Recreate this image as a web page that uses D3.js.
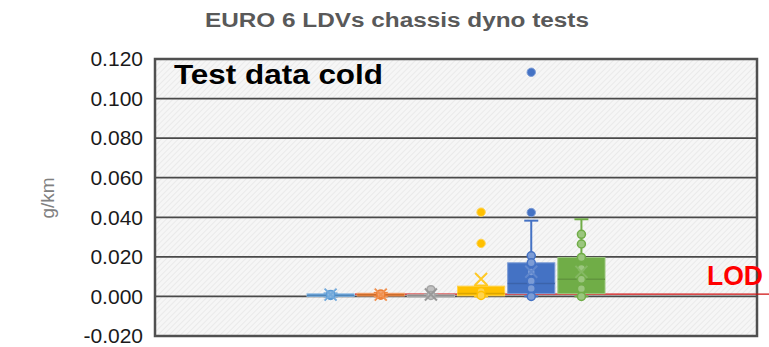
<!DOCTYPE html>
<html><head><meta charset="utf-8">
<script src="https://cdn.jsdelivr.net/npm/d3@7"></script>
<style>body{margin:0;background:#fff}svg{display:block}</style>
</head><body>
<svg id="chart" width="769" height="347"></svg>
<script>
// ---- data ----
const categories = ["s1","s2","s3","s4","s5","s6","s7","s8","s9","s10","s11","s12"];
const seriesSlot = ["s4","s5","s6","s7","s8","s9"];
const seriesColor = ["#5B9BD5","#ED7D31","#A5A5A5","#FFC000","#4472C4","#70AD47"];
const q1Vals     = [0.0000, 0.0002, 0.0003, 0.0003, 0.0014, 0.0014];
const medianVals = [0.0005, 0.0008, 0.0005, 0.0015, 0.0065, 0.0087];
const q3Vals     = [0.0013, 0.0016, 0.0008, 0.0052, 0.0170, 0.0197];
const whiskLow   = [0.0000, 0.0000, 0.0000, 0.0000, 0.0000, 0.0000];
const whiskHigh  = [0.0015, 0.0018, 0.0010, 0.0055, 0.0383, 0.0390];
const meanVals   = [0.0009, 0.0009, 0.0010, 0.0088, 0.0125, 0.0124];
const innerPoints = [
  [0.0005, 0.0010],
  [0.0006, 0.0012],
  [0.0034, 0.0005],
  [0.0025, 0.0005],
  [0.0205, 0.0170, 0.0124, 0.0078, 0.0040, 0.0000],
  [0.0314, 0.0265, 0.0197, 0.0141, 0.0087, 0.0039, 0.0000]
];
const outliers = [[], [], [], [0.0426, 0.0268], [0.0424, 0.1133], []];
const yTicks = [-0.02, 0.00, 0.02, 0.04, 0.06, 0.08, 0.10, 0.12];
const lodValue = 0.0012;

// ---- layout ----
const svg = d3.select("#chart");
const L = 155, R = 757, T = 59, B = 336;
const x = d3.scaleBand().domain(categories).range([L, R]).paddingInner(0.06).paddingOuter(0.03);
const y = d3.scaleLinear().domain([-0.02, 0.12]).range([B, T]);

const defs = svg.append("defs");
const pat = defs.append("pattern").attr("id","hatch").attr("patternUnits","userSpaceOnUse")
  .attr("width",4).attr("height",4).attr("patternTransform","rotate(45)");
pat.append("rect").attr("width",4).attr("height",4).attr("fill","#f6f6f6");
pat.append("line").attr("x1",0).attr("y1",0).attr("x2",0).attr("y2",4).attr("stroke","#e3e3e3").attr("stroke-width",1.2);

svg.append("rect").attr("x",L).attr("y",T).attr("width",R-L).attr("height",B-T).attr("fill","url(#hatch)");

// gridlines
svg.append("g").selectAll("line").data(yTicks).join("line")
  .attr("x1",L).attr("x2",R).attr("y1",d=>y(d)).attr("y2",d=>y(d))
  .attr("stroke","#4a4a4a").attr("stroke-width",1.8);

// y axis labels
const fmt = d3.format(".3f");
const yAxis = d3.axisLeft(y).tickValues(yTicks).tickFormat(d=>fmt(d).replace("\u2212","-")).tickSize(0).tickPadding(0);
const ya = svg.append("g").attr("transform",`translate(${L-12},0)`).call(yAxis);
ya.select(".domain").remove();
ya.selectAll("text").attr("font-family","Liberation Sans, Arial, sans-serif").attr("font-size",21).attr("fill","#1a1a1a");

// border
svg.append("rect").attr("x",L).attr("y",T).attr("width",R-L).attr("height",B-T)
  .attr("fill","none").attr("stroke","#505050").attr("stroke-width",2.5);

// LOD line
svg.append("line").attr("x1",355).attr("x2",769).attr("y1",y(lodValue)).attr("y2",y(lodValue))
  .attr("stroke","#d01010").attr("stroke-width",1.2);

// boxes
const bw = x.bandwidth();
seriesSlot.forEach((slot,i)=>{
  const g = svg.append("g");
  const cx = x(slot) + bw/2;
  const c = seriesColor[i];
  const light = d3.interpolateRgb(c,"#ffffff")(0.3);
  const dark = d3.color(c).darker(0.4).formatHex();
  // whiskers
  g.append("line").attr("x1",cx).attr("x2",cx).attr("y1",y(q3Vals[i])).attr("y2",y(whiskHigh[i])).attr("stroke",c).attr("stroke-width",2);
  g.append("line").attr("x1",cx).attr("x2",cx).attr("y1",y(q1Vals[i])).attr("y2",y(whiskLow[i])).attr("stroke",c).attr("stroke-width",2);
  [whiskHigh[i], whiskLow[i]].forEach(v=>{
    g.append("line").attr("x1",cx-7).attr("x2",cx+7).attr("y1",y(v)).attr("y2",y(v)).attr("stroke",c).attr("stroke-width",2);
  });
  // box
  const top = y(q3Vals[i]), bot = y(q1Vals[i]);
  g.append("rect").attr("x",x(slot)).attr("width",bw).attr("y",top).attr("height",Math.max(bot-top,2.5))
    .attr("fill",c).attr("stroke",light).attr("stroke-width",1);
  g.append("line").attr("x1",x(slot)).attr("x2",x(slot)+bw).attr("y1",y(medianVals[i])).attr("y2",y(medianVals[i]))
    .attr("stroke",dark).attr("stroke-width",1.5);
  // inner points
  g.selectAll("circle.p").data(innerPoints[i]).join("circle").attr("class","p")
    .attr("cx",cx).attr("cy",d=>y(d)).attr("r",4).attr("fill",light).attr("stroke",c).attr("stroke-width",1.5);
  // outliers
  g.selectAll("circle.o").data(outliers[i]).join("circle").attr("class","o")
    .attr("cx",cx).attr("cy",d=>y(d)).attr("r",4.2).attr("fill",c).attr("stroke",light).attr("stroke-width",1);
  // mean X
  const my = y(meanVals[i]), s = 6;
  g.append("path").attr("d",`M${cx-s},${my-s}L${cx+s},${my+s}M${cx-s},${my+s}L${cx+s},${my-s}`)
    .attr("stroke",i===2?"#999":d3.interpolateRgb(c,"#ffffff")(0.15)).attr("stroke-width",2).attr("fill","none");
});

// texts
svg.append("text").attr("x",397).attr("y",27).attr("text-anchor","middle")
  .attr("font-family","Liberation Sans, Arial, sans-serif").attr("font-weight","bold").attr("font-size",20)
  .attr("fill","#595959").attr("textLength",384).attr("lengthAdjust","spacingAndGlyphs")
  .text("EURO 6 LDVs chassis dyno tests");
svg.append("text").attr("transform","translate(54,198) rotate(-90)").attr("text-anchor","middle")
  .attr("font-family","Liberation Sans, Arial, sans-serif").attr("font-size",19).attr("fill","#808080").text("g/km");
svg.append("text").attr("x",174).attr("y",84)
  .attr("font-family","Liberation Sans, Arial, sans-serif").attr("font-weight","bold").attr("font-size",27)
  .attr("fill","#000").attr("textLength",209).attr("lengthAdjust","spacingAndGlyphs").text("Test data cold");
svg.append("text").attr("x",707).attr("y",285)
  .attr("font-family","Liberation Sans, Arial, sans-serif").attr("font-weight","bold").attr("font-size",28)
  .attr("fill","#ff0000").attr("textLength",56).attr("lengthAdjust","spacingAndGlyphs").text("LOD");
</script>
</body></html>
